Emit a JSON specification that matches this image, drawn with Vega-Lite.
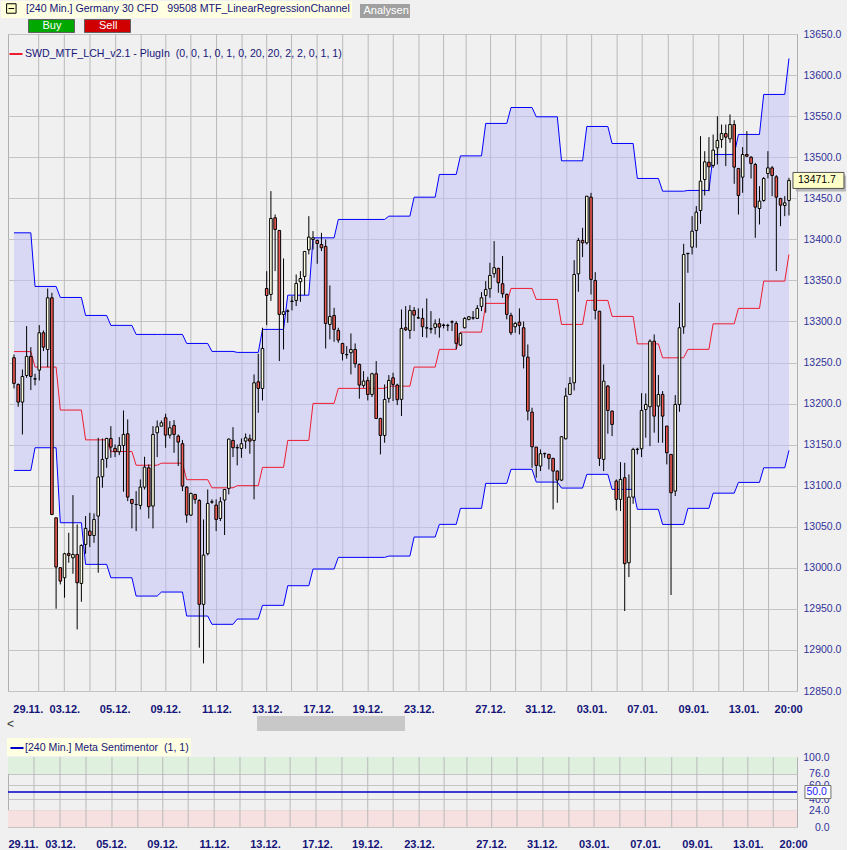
{
  "$schema": "https://vega.github.io/schema/vega-lite/v6.json",
  "background": "#f0f0f0",
  "padding": {"left": 0, "top": 0, "right": 0, "bottom": 0},
  "bounds": "flush",
  "spacing": 66,
  "config": {
    "view": {"stroke": "#b0b0b0", "fill": "#f0f0f0"},
    "font": "Liberation Sans",
    "axisY": {"grid": true, "gridColor": "#c4c4c4", "ticks": false, "domain": false, "labelFont": "Liberation Sans", "labelFontSize": 10.5, "labelColor": "#32329a"},
    "axisX": {"grid": false, "ticks": false, "domain": false, "labelFont": "Liberation Sans", "labelFontSize": 11, "labelFontWeight": "bold", "labelColor": "#141478", "labelFlush": false, "labelOverlap": false, "labelBound": false}
  },
  "resolve": {"scale": {"x": "independent", "y": "independent", "stroke": "independent", "fill": "independent"}, "legend": {"stroke": "independent", "fill": "independent"}},
  "datasets": {
    "grid": [{"t":5.86},{"t":11.95},{"t":18.05},{"t":24.14},{"t":30.2},{"t":36.05},{"t":42.0},{"t":48.1},{"t":54.15},{"t":60.0},{"t":65.9},{"t":71.97},{"t":78.05},{"t":84.1},{"t":90.05},{"t":96.15},{"t":102.0},{"t":107.35},{"t":113.15},{"t":119.1},{"t":125.15},{"t":131.25},{"t":137.15},{"t":143.2},{"t":149.15},{"t":155.35},{"t":161.25},{"t":167.35},{"t":173.2},{"t":179.15}],
    "channel": [
      {"t":0,"u":13407.9,"lo":13118.6,"m":13263.3},{"t":4,"u":13407.9,"lo":13118.6,"m":13263.3},
      {"t":5,"u":13342.6,"lo":13146.2,"m":13244.4},{"t":10,"u":13342.6,"lo":13146.2,"m":13244.4},
      {"t":11,"u":13329.2,"lo":13054.9,"m":13192.1},{"t":16,"u":13329.2,"lo":13054.9,"m":13192.1},
      {"t":17,"u":13307.3,"lo":13004.2,"m":13155.8},{"t":22,"u":13307.3,"lo":13004.2,"m":13155.8},
      {"t":23,"u":13295.2,"lo":12987.9,"m":13141.6},{"t":28,"u":13295.2,"lo":12987.9,"m":13141.6},
      {"t":29,"u":13284.2,"lo":12965.6,"m":13124.9},{"t":34,"u":13284.2,"lo":12965.6,"m":13124.9},
      {"t":35,"u":13284.2,"lo":12970.5,"m":13127.4},{"t":40,"u":13284.2,"lo":12970.5,"m":13127.4},
      {"t":41,"u":13273.2,"lo":12941.3,"m":13107.3},{"t":46,"u":13273.2,"lo":12941.3,"m":13107.3},
      {"t":47,"u":13263.5,"lo":12931.2,"m":13097.4},{"t":52,"u":13263.5,"lo":12931.2,"m":13097.4},
      {"t":53,"u":13262.3,"lo":12937.6,"m":13100.0},{"t":58,"u":13262.3,"lo":12937.6,"m":13100.0},
      {"t":59,"u":13290.3,"lo":12954.3,"m":13122.3},{"t":64,"u":13290.3,"lo":12954.3,"m":13122.3},
      {"t":65,"u":13332.0,"lo":12978.2,"m":13155.1},{"t":70,"u":13332.0,"lo":12978.2,"m":13155.1},
      {"t":71,"u":13401.8,"lo":12998.5,"m":13200.2},{"t":76,"u":13401.8,"lo":12998.5,"m":13200.2},
      {"t":77,"u":13424.2,"lo":13012.7,"m":13218.5},{"t":88,"u":13424.2,"lo":13012.7,"m":13218.5},
      {"t":89,"u":13428.2,"lo":13014.3,"m":13221.2},{"t":94,"u":13428.2,"lo":13014.3,"m":13221.2},
      {"t":95,"u":13451.3,"lo":13037.5,"m":13244.4},{"t":100,"u":13451.3,"lo":13037.5,"m":13244.4},
      {"t":101,"u":13479.0,"lo":13052.9,"m":13266.0},{"t":105,"u":13479.0,"lo":13052.9,"m":13266.0},
      {"t":106,"u":13501.6,"lo":13072.4,"m":13287.0},{"t":111,"u":13501.6,"lo":13072.4,"m":13287.0},
      {"t":112,"u":13541.1,"lo":13102.8,"m":13322.0},{"t":117,"u":13541.1,"lo":13102.8,"m":13322.0},
      {"t":118,"u":13560.5,"lo":13119.9,"m":13340.2},{"t":123,"u":13560.5,"lo":13119.9,"m":13340.2},
      {"t":124,"u":13549.2,"lo":13104.4,"m":13326.8},{"t":129,"u":13549.2,"lo":13104.4,"m":13326.8},
      {"t":130,"u":13495.6,"lo":13097.1,"m":13296.4},{"t":135,"u":13495.6,"lo":13097.1,"m":13296.4},
      {"t":136,"u":13537.4,"lo":13113.8,"m":13325.6},{"t":141,"u":13537.4,"lo":13113.8,"m":13325.6},
      {"t":142,"u":13516.7,"lo":13095.5,"m":13306.1},{"t":147,"u":13516.7,"lo":13095.5,"m":13306.1},
      {"t":148,"u":13474.1,"lo":13071.2,"m":13272.7},{"t":153,"u":13474.1,"lo":13071.2,"m":13272.7},
      {"t":154,"u":13458.6,"lo":13052.8,"m":13255.7},{"t":159,"u":13458.6,"lo":13052.8,"m":13255.7},
      {"t":160,"u":13459.5,"lo":13072.4,"m":13266.0},{"t":165,"u":13459.5,"lo":13072.4,"m":13266.0},
      {"t":166,"u":13503.3,"lo":13090.9,"m":13297.1},{"t":171,"u":13503.3,"lo":13090.9,"m":13297.1},
      {"t":172,"u":13527.7,"lo":13104.0,"m":13315.9},{"t":177,"u":13527.7,"lo":13104.0,"m":13315.9},
      {"t":178,"u":13576.4,"lo":13121.8,"m":13349.1},{"t":183,"u":13576.4,"lo":13121.8,"m":13349.1},
      {"t":184,"u":13620.2,"lo":13143.0,"m":13381.6}
    ],
    "candles": [
      {"t":0,"o":13255.8,"h":13259.8,"l":13218.4,"c":13224.5},
      {"t":1,"o":13223.3,"h":13224.5,"l":13196.1,"c":13201.8},
      {"t":2,"o":13201.8,"h":13241.5,"l":13162.4,"c":13233.0},
      {"t":3,"o":13234.2,"h":13294.3,"l":13231.4,"c":13257.4},
      {"t":4,"o":13257.4,"h":13268.7,"l":13216.4,"c":13233.0},
      {"t":5,"o":13230.2,"h":13236.3,"l":13222.1,"c":13229.8},
      {"t":6,"o":13240.7,"h":13295.5,"l":13228.1,"c":13286.2},
      {"t":7,"o":13286.2,"h":13289.0,"l":13263.9,"c":13268.7},
      {"t":8,"o":13265.9,"h":13340.1,"l":13244.4,"c":13328.8},
      {"t":9,"o":13328.8,"h":13334.9,"l":13064.2,"c":13065.0},
      {"t":10,"o":13060.9,"h":13060.9,"l":12950.2,"c":13000.9},
      {"t":11,"o":13000.1,"h":13000.9,"l":12979.8,"c":12983.8},
      {"t":12,"o":12987.9,"h":13018.3,"l":12963.6,"c":13017.1},
      {"t":13,"o":13017.5,"h":13042.7,"l":13006.2,"c":13015.1},
      {"t":14,"o":13012.2,"h":13088.5,"l":12992.8,"c":13016.3},
      {"t":15,"o":13016.3,"h":13052.8,"l":12925.0,"c":12981.8},
      {"t":16,"o":12981.0,"h":13028.5,"l":12958.7,"c":13027.3},
      {"t":17,"o":13028.5,"h":13063.0,"l":13017.1,"c":13048.0},
      {"t":18,"o":13044.7,"h":13067.0,"l":13025.2,"c":13039.4},
      {"t":19,"o":13039.4,"h":13066.2,"l":13030.5,"c":13058.9},
      {"t":20,"o":13063.0,"h":13158.3,"l":12994.0,"c":13110.5},
      {"t":21,"o":13110.9,"h":13157.5,"l":13097.5,"c":13132.0},
      {"t":22,"o":13133.2,"h":13158.3,"l":13121.8,"c":13157.5},
      {"t":23,"o":13157.5,"h":13172.5,"l":13134.0,"c":13147.0},
      {"t":24,"o":13145.4,"h":13150.2,"l":13134.8,"c":13141.3},
      {"t":25,"o":13141.3,"h":13159.2,"l":13137.2,"c":13149.0},
      {"t":26,"o":13149.0,"h":13191.6,"l":13092.6,"c":13162.4},
      {"t":27,"o":13163.2,"h":13180.7,"l":13081.2,"c":13086.1},
      {"t":28,"o":13083.3,"h":13083.3,"l":13048.0,"c":13078.4},
      {"t":29,"o":13077.2,"h":13093.4,"l":13044.7,"c":13077.0},
      {"t":30,"o":13076.0,"h":13107.6,"l":13071.1,"c":13098.3},
      {"t":31,"o":13098.3,"h":13135.2,"l":13095.4,"c":13122.6},
      {"t":32,"o":13121.8,"h":13125.9,"l":13060.1,"c":13074.4},
      {"t":33,"o":13075.2,"h":13172.5,"l":13048.0,"c":13162.4},
      {"t":34,"o":13164.4,"h":13179.4,"l":13134.8,"c":13171.7},
      {"t":35,"o":13172.5,"h":13179.4,"l":13172.5,"c":13176.6},
      {"t":36,"o":13182.7,"h":13187.6,"l":13146.2,"c":13161.6},
      {"t":37,"o":13161.6,"h":13178.6,"l":13157.5,"c":13170.5},
      {"t":38,"o":13173.4,"h":13179.9,"l":13140.1,"c":13162.4},
      {"t":39,"o":13160.4,"h":13162.4,"l":13123.9,"c":13153.1},
      {"t":40,"o":13151.1,"h":13155.5,"l":13093.4,"c":13099.5},
      {"t":41,"o":13098.3,"h":13099.5,"l":13054.9,"c":13064.2},
      {"t":42,"o":13064.2,"h":13091.4,"l":13063.0,"c":13090.6},
      {"t":43,"o":13089.3,"h":13090.1,"l":13078.0,"c":13083.3},
      {"t":44,"o":13082.1,"h":13083.3,"l":12902.7,"c":12955.5},
      {"t":45,"o":12955.5,"h":13058.9,"l":12883.6,"c":13015.5},
      {"t":46,"o":13017.1,"h":13095.4,"l":13015.1,"c":13078.4},
      {"t":47,"o":13080.4,"h":13083.3,"l":13078.0,"c":13080.0},
      {"t":48,"o":13076.4,"h":13083.3,"l":13044.7,"c":13058.9},
      {"t":49,"o":13060.1,"h":13086.1,"l":13056.9,"c":13080.4},
      {"t":50,"o":13082.5,"h":13095.4,"l":13039.9,"c":13095.4},
      {"t":51,"o":13096.7,"h":13157.5,"l":13089.4,"c":13156.7},
      {"t":52,"o":13155.1,"h":13171.3,"l":13134.8,"c":13146.2},
      {"t":53,"o":13146.4,"h":13150.2,"l":13124.7,"c":13146.0},
      {"t":54,"o":13145.4,"h":13157.5,"l":13134.0,"c":13151.1},
      {"t":55,"o":13154.3,"h":13163.6,"l":13145.0,"c":13158.3},
      {"t":56,"o":13157.1,"h":13162.4,"l":13138.9,"c":13154.3},
      {"t":57,"o":13155.1,"h":13235.5,"l":13083.3,"c":13225.3},
      {"t":58,"o":13226.5,"h":13260.6,"l":13188.8,"c":13218.4},
      {"t":59,"o":13218.4,"h":13292.3,"l":13203.8,"c":13267.1},
      {"t":60,"o":13340.1,"h":13361.2,"l":13295.5,"c":13331.6},
      {"t":61,"o":13332.9,"h":13458.7,"l":13325.0,"c":13425.4},
      {"t":62,"o":13426.2,"h":13430.2,"l":13361.3,"c":13412.0},
      {"t":63,"o":13410.8,"h":13410.8,"l":13251.7,"c":13308.5},
      {"t":64,"o":13308.5,"h":13376.7,"l":13265.9,"c":13311.8},
      {"t":65,"o":13312.8,"h":13314.6,"l":13298.4,"c":13312.4},
      {"t":66,"o":13324.7,"h":13330.8,"l":13313.4,"c":13324.3},
      {"t":67,"o":13325.6,"h":13357.2,"l":13318.7,"c":13346.3},
      {"t":68,"o":13348.3,"h":13361.3,"l":13323.9,"c":13352.3},
      {"t":69,"o":13354.8,"h":13385.6,"l":13332.1,"c":13385.2},
      {"t":70,"o":13387.2,"h":13428.2,"l":13381.6,"c":13402.7},
      {"t":71,"o":13399.8,"h":13410.0,"l":13387.6,"c":13401.8},
      {"t":72,"o":13398.6,"h":13399.8,"l":13370.2,"c":13394.9},
      {"t":73,"o":13393.7,"h":13407.9,"l":13385.6,"c":13389.7},
      {"t":74,"o":13391.3,"h":13399.8,"l":13267.1,"c":13297.6},
      {"t":75,"o":13296.3,"h":13343.8,"l":13278.1,"c":13306.1},
      {"t":76,"o":13307.3,"h":13316.6,"l":13275.2,"c":13290.3},
      {"t":77,"o":13289.0,"h":13292.3,"l":13274.0,"c":13277.3},
      {"t":78,"o":13273.2,"h":13274.0,"l":13252.5,"c":13261.0},
      {"t":79,"o":13259.8,"h":13270.0,"l":13254.6,"c":13259.4},
      {"t":80,"o":13261.9,"h":13285.4,"l":13235.5,"c":13265.9},
      {"t":81,"o":13265.9,"h":13273.2,"l":13243.6,"c":13248.5},
      {"t":82,"o":13247.7,"h":13248.5,"l":13205.9,"c":13222.5},
      {"t":83,"o":13222.1,"h":13239.5,"l":13219.2,"c":13227.4},
      {"t":84,"o":13228.2,"h":13232.6,"l":13203.8,"c":13211.1},
      {"t":85,"o":13211.1,"h":13237.5,"l":13207.9,"c":13236.3},
      {"t":86,"o":13236.3,"h":13251.7,"l":13181.5,"c":13181.9},
      {"t":87,"o":13181.9,"h":13182.7,"l":13138.1,"c":13161.2},
      {"t":88,"o":13161.2,"h":13223.3,"l":13152.3,"c":13205.0},
      {"t":89,"o":13206.3,"h":13234.7,"l":13201.0,"c":13228.2},
      {"t":90,"o":13231.4,"h":13237.5,"l":13203.0,"c":13223.3},
      {"t":91,"o":13222.5,"h":13224.2,"l":13198.2,"c":13204.7},
      {"t":92,"o":13205.1,"h":13314.6,"l":13184.8,"c":13291.5},
      {"t":93,"o":13292.3,"h":13318.7,"l":13288.3,"c":13289.9},
      {"t":94,"o":13289.1,"h":13319.9,"l":13278.9,"c":13313.4},
      {"t":95,"o":13313.4,"h":13317.5,"l":13288.3,"c":13307.7},
      {"t":96,"o":13304.5,"h":13315.9,"l":13303.7,"c":13304.1},
      {"t":97,"o":13303.7,"h":13315.9,"l":13281.0,"c":13293.5},
      {"t":98,"o":13292.3,"h":13328.0,"l":13280.2,"c":13291.9},
      {"t":99,"o":13291.1,"h":13312.6,"l":13285.4,"c":13290.7},
      {"t":100,"o":13292.7,"h":13302.5,"l":13284.2,"c":13297.2},
      {"t":101,"o":13297.2,"h":13303.7,"l":13280.2,"c":13293.1},
      {"t":102,"o":13295.6,"h":13297.2,"l":13291.5,"c":13295.2},
      {"t":103,"o":13295.2,"h":13297.2,"l":13288.3,"c":13294.8},
      {"t":104,"o":13299.6,"h":13301.3,"l":13288.3,"c":13299.2},
      {"t":105,"o":13297.6,"h":13300.4,"l":13266.0,"c":13273.3},
      {"t":106,"o":13271.2,"h":13286.2,"l":13270.0,"c":13285.4},
      {"t":107,"o":13292.3,"h":13305.3,"l":13291.5,"c":13303.7},
      {"t":108,"o":13302.5,"h":13306.5,"l":13301.3,"c":13305.7},
      {"t":109,"o":13304.5,"h":13312.6,"l":13302.1,"c":13304.1},
      {"t":110,"o":13303.7,"h":13319.9,"l":13302.9,"c":13315.9},
      {"t":111,"o":13318.3,"h":13335.7,"l":13312.6,"c":13328.8},
      {"t":112,"o":13331.7,"h":13349.1,"l":13310.6,"c":13339.0},
      {"t":113,"o":13339.8,"h":13371.5,"l":13328.8,"c":13356.0},
      {"t":114,"o":13358.1,"h":13397.8,"l":13353.2,"c":13365.4},
      {"t":115,"o":13364.6,"h":13365.4,"l":13334.9,"c":13347.1},
      {"t":116,"o":13345.9,"h":13379.6,"l":13328.8,"c":13333.7},
      {"t":117,"o":13332.9,"h":13334.1,"l":13302.5,"c":13308.6},
      {"t":118,"o":13307.3,"h":13310.6,"l":13283.4,"c":13286.2},
      {"t":119,"o":13293.5,"h":13299.6,"l":13286.2,"c":13297.6},
      {"t":120,"o":13299.2,"h":13315.9,"l":13284.2,"c":13295.2},
      {"t":121,"o":13292.3,"h":13300.0,"l":13242.8,"c":13257.8},
      {"t":122,"o":13256.6,"h":13272.0,"l":13179.5,"c":13190.8},
      {"t":123,"o":13189.6,"h":13194.9,"l":13121.8,"c":13147.4},
      {"t":124,"o":13147.0,"h":13147.0,"l":13109.7,"c":13124.7},
      {"t":125,"o":13123.9,"h":13144.2,"l":13117.8,"c":13138.9},
      {"t":126,"o":13139.3,"h":13140.1,"l":13134.0,"c":13138.9},
      {"t":127,"o":13138.1,"h":13138.9,"l":13119.8,"c":13133.2},
      {"t":128,"o":13133.2,"h":13134.0,"l":13071.1,"c":13117.8},
      {"t":129,"o":13117.8,"h":13118.6,"l":13079.2,"c":13106.8},
      {"t":130,"o":13106.8,"h":13160.4,"l":13105.6,"c":13159.6},
      {"t":131,"o":13157.1,"h":13219.2,"l":13156.3,"c":13209.1},
      {"t":132,"o":13211.1,"h":13232.2,"l":13210.3,"c":13224.5},
      {"t":133,"o":13225.3,"h":13374.6,"l":13216.0,"c":13357.2},
      {"t":134,"o":13358.0,"h":13401.8,"l":13336.1,"c":13398.6},
      {"t":135,"o":13398.6,"h":13414.0,"l":13378.3,"c":13395.7},
      {"t":136,"o":13395.7,"h":13452.5,"l":13393.7,"c":13452.5},
      {"t":137,"o":13451.3,"h":13456.6,"l":13332.8,"c":13351.1},
      {"t":138,"o":13349.9,"h":13360.0,"l":13302.4,"c":13313.4},
      {"t":139,"o":13312.5,"h":13312.5,"l":13123.9,"c":13133.2},
      {"t":140,"o":13132.0,"h":13247.6,"l":13117.8,"c":13227.3},
      {"t":141,"o":13221.3,"h":13222.5,"l":13163.2,"c":13191.6},
      {"t":142,"o":13190.8,"h":13191.6,"l":13160.4,"c":13174.6},
      {"t":143,"o":13105.6,"h":13107.6,"l":13069.9,"c":13083.3},
      {"t":144,"o":13083.3,"h":13128.7,"l":13069.1,"c":13107.6},
      {"t":145,"o":13109.7,"h":13127.9,"l":12947.4,"c":13005.0},
      {"t":146,"o":13006.2,"h":13113.7,"l":12988.7,"c":13086.1},
      {"t":147,"o":13086.1,"h":13146.2,"l":13078.0,"c":13144.2},
      {"t":148,"o":13144.4,"h":13146.2,"l":13138.1,"c":13144.0},
      {"t":149,"o":13145.0,"h":13212.7,"l":13134.8,"c":13191.6},
      {"t":150,"o":13192.8,"h":13212.3,"l":13158.4,"c":13198.9},
      {"t":151,"o":13196.1,"h":13278.1,"l":13148.2,"c":13276.0},
      {"t":152,"o":13276.0,"h":13284.2,"l":13164.5,"c":13184.7},
      {"t":153,"o":13196.9,"h":13234.7,"l":13152.3,"c":13211.1},
      {"t":154,"o":13211.1,"h":13215.2,"l":13152.3,"c":13184.7},
      {"t":155,"o":13172.6,"h":13172.6,"l":13125.9,"c":13140.1},
      {"t":156,"o":13138.1,"h":13138.1,"l":12966.9,"c":13091.4},
      {"t":157,"o":13093.4,"h":13210.3,"l":13087.4,"c":13198.9},
      {"t":158,"o":13198.9,"h":13322.7,"l":13190.0,"c":13292.3},
      {"t":159,"o":13293.5,"h":13394.5,"l":13285.0,"c":13381.5},
      {"t":160,"o":13382.9,"h":13383.6,"l":13359.2,"c":13382.5},
      {"t":161,"o":13390.5,"h":13428.2,"l":13381.5,"c":13409.9},
      {"t":162,"o":13410.8,"h":13440.4,"l":13389.7,"c":13433.1},
      {"t":163,"o":13435.1,"h":13525.6,"l":13418.9,"c":13470.8},
      {"t":164,"o":13472.8,"h":13507.3,"l":13453.4,"c":13494.3},
      {"t":165,"o":13493.9,"h":13524.4,"l":13458.6,"c":13488.3},
      {"t":166,"o":13489.9,"h":13527.6,"l":13487.0,"c":13508.6},
      {"t":167,"o":13511.4,"h":13549.9,"l":13491.1,"c":13520.3},
      {"t":168,"o":13521.5,"h":13539.8,"l":13511.4,"c":13528.8},
      {"t":169,"o":13528.8,"h":13539.8,"l":13489.1,"c":13524.4},
      {"t":170,"o":13522.3,"h":13552.0,"l":13517.5,"c":13539.8},
      {"t":171,"o":13539.8,"h":13545.0,"l":13467.6,"c":13487.9},
      {"t":172,"o":13486.2,"h":13487.0,"l":13430.2,"c":13453.4},
      {"t":173,"o":13475.7,"h":13512.2,"l":13456.6,"c":13503.3},
      {"t":174,"o":13503.3,"h":13531.7,"l":13500.0,"c":13501.2},
      {"t":175,"o":13500.0,"h":13501.2,"l":13474.1,"c":13492.3},
      {"t":176,"o":13491.1,"h":13493.1,"l":13401.8,"c":13439.2},
      {"t":177,"o":13437.5,"h":13464.7,"l":13418.1,"c":13446.5},
      {"t":178,"o":13447.3,"h":13475.7,"l":13445.7,"c":13474.1},
      {"t":179,"o":13480.1,"h":13507.3,"l":13474.1,"c":13487.0},
      {"t":180,"o":13487.0,"h":13489.1,"l":13452.6,"c":13477.7},
      {"t":181,"o":13476.1,"h":13478.1,"l":13361.3,"c":13451.3},
      {"t":182,"o":13449.7,"h":13450.5,"l":13416.0,"c":13441.6},
      {"t":183,"o":13441.2,"h":13452.6,"l":13428.2,"c":13444.4},
      {"t":184,"o":13447.3,"h":13474.9,"l":13429.0,"c":13471.7}
    ],
    "bands": [{"a":76,"b":100},{"a":0,"b":24}],
    "senti": [{"t":184,"v":50}]
  },
  "vconcat": [
    {
      "width": 789,
      "height": 657,
      "resolve": {"scale": {"fill": "independent"}, "legend": {"fill": "independent"}},
      "encoding": {
        "x": {"field": "t", "type": "quantitative", "scale": {"domain": [-0.234, 184.72], "nice": false, "zero": false},
          "axis": {"values": [3.28,11.95,23.9,35.9,48.05,60,72.2,83.9,96.1,113,124.9,137.1,149.1,161.3,173.2,183.8],
            "labelExpr": "['29.11.','03.12.','05.12.','09.12.','11.12.','13.12.','17.12.','19.12.','23.12.','27.12.','31.12.','03.01.','07.01.','09.01.','13.01.','20:00'][indexof([3.28,11.95,23.9,35.9,48.05,60,72.2,83.9,96.1,113,124.9,137.1,149.1,161.3,173.2,183.8], datum.value)]",
            "labelPadding": 12, "title": null}}
      },
      "layer": [
        {"data": {"name": "grid"}, "mark": {"type": "rule", "stroke": "#b9b9b9", "strokeWidth": 1},
          "encoding": {"fill": {"datum": "Sell", "type": "nominal", "scale": {"range": ["#d00000"]},
            "legend": {"orient": "none", "legendX": 92.5, "legendY": -15, "title": null, "symbolType": "M-3.54,-1H3.54V1H-3.54Z", "symbolSize": 169, "symbolStrokeWidth": 1, "symbolStrokeColor": "#606060", "padding": 0, "labelOffset": -15.5, "labelFont": "Liberation Sans", "labelFontSize": 11, "labelColor": "#ffffff", "labelLimit": 0}}}},
        {"data": {"name": "channel"}, "mark": {"type": "area", "fill": "#c0c0f8", "opacity": 0.5, "interpolate": "linear"},
          "encoding": {"y": {"field": "u", "type": "quantitative", "scale": {"domain": [12850, 13650], "nice": false, "zero": false},
            "axis": {"orient": "right", "values": [12850,12900,12950,13000,13050,13100,13150,13200,13250,13300,13350,13400,13450,13500,13550,13600,13650], "format": ".1f", "labelPadding": 6, "title": null}},
            "y2": {"field": "lo"}}},
        {"data": {"name": "channel"}, "mark": {"type": "line", "stroke": "#0000ff", "strokeWidth": 1},
          "encoding": {"y": {"field": "u", "type": "quantitative", "scale": {"domain": [12850, 13650], "nice": false, "zero": false},
            "axis": {"orient": "right", "values": [12850,12900,12950,13000,13050,13100,13150,13200,13250,13300,13350,13400,13450,13500,13550,13600,13650], "format": ".1f", "labelPadding": 6, "title": null}}}},
        {"data": {"name": "channel"}, "mark": {"type": "line", "stroke": "#0000ff", "strokeWidth": 1},
          "encoding": {"y": {"field": "lo", "type": "quantitative", "scale": {"domain": [12850, 13650], "nice": false, "zero": false},
            "axis": {"orient": "right", "values": [12850,12900,12950,13000,13050,13100,13150,13200,13250,13300,13350,13400,13450,13500,13550,13600,13650], "format": ".1f", "labelPadding": 6, "title": null}}}},
        {"data": {"name": "channel"}, "mark": {"type": "line", "strokeWidth": 1},
          "encoding": {"y": {"field": "m", "type": "quantitative", "scale": {"domain": [12850, 13650], "nice": false, "zero": false},
            "axis": {"orient": "right", "values": [12850,12900,12950,13000,13050,13100,13150,13200,13250,13300,13350,13400,13450,13500,13550,13600,13650], "format": ".1f", "labelPadding": 6, "title": null}},
            "stroke": {"datum": "SWD_MTF_LCH_v2.1 - PlugIn\u00a0\u00a0(0, 0, 1, 0, 1, 0, 20, 20, 2, 2, 0, 1, 1)", "type": "nominal", "scale": {"range": ["#ee1c30"]},
              "legend": {"orient": "none", "legendX": 0, "legendY": 12, "title": null, "symbolType": "stroke", "symbolStrokeWidth": 2, "symbolSize": 170, "labelFont": "Liberation Sans", "labelFontSize": 10.6, "labelColor": "#16167a", "labelLimit": 0, "padding": 0, "labelOffset": 1}}}},
        {"data": {"name": "candles"}, "mark": {"type": "rule", "stroke": "#000000", "strokeWidth": 1, "clip": true},
          "encoding": {"y": {"field": "l", "type": "quantitative", "scale": {"domain": [12850, 13650], "nice": false, "zero": false},
            "axis": {"orient": "right", "values": [12850,12900,12950,13000,13050,13100,13150,13200,13250,13300,13350,13400,13450,13500,13550,13600,13650], "format": ".1f", "labelPadding": 6, "title": null}}, "y2": {"field": "h"},
            "fill": {"datum": "Buy", "type": "nominal", "scale": {"range": ["#00a800"]},
              "legend": {"orient": "none", "legendX": 36.5, "legendY": -15, "title": null, "symbolType": "M-3.54,-1H3.54V1H-3.54Z", "symbolSize": 169, "symbolStrokeWidth": 1, "symbolStrokeColor": "#606060", "padding": 0, "labelOffset": -16, "labelFont": "Liberation Sans", "labelFontSize": 11, "labelColor": "#ffffff", "labelLimit": 0}}}},
        {"data": {"name": "candles"}, "mark": {"type": "bar", "width": 2.6, "stroke": "#000000", "strokeWidth": 1, "clip": true},
          "encoding": {"y": {"field": "o", "type": "quantitative", "scale": {"domain": [12850, 13650], "nice": false, "zero": false},
            "axis": {"orient": "right", "values": [12850,12900,12950,13000,13050,13100,13150,13200,13250,13300,13350,13400,13450,13500,13550,13600,13650], "format": ".1f", "labelPadding": 6, "title": null}}, "y2": {"field": "c"},
            "fill": {"condition": {"test": "datum.c >= datum.o", "value": "#ffffe4"}, "value": "#f05b52"}}},
        {"data": {"name": "candles"}, "transform": [{"filter": "datum.t == 184"}],
          "mark": {"type": "rect", "opacity": 0.7, "xOffset": 7, "x2Offset": 57, "yOffset": -5, "y2Offset": 11},
          "encoding": {"x2": {"field": "t"}, "y": {"field": "c", "type": "quantitative", "scale": {"domain": [12850, 13650], "nice": false, "zero": false},
            "axis": {"orient": "right", "values": [12850,12900,12950,13000,13050,13100,13150,13200,13250,13300,13350,13400,13450,13500,13550,13600,13650], "format": ".1f", "labelPadding": 6, "title": null}}, "y2": {"field": "c"},
            "fill": {"datum": "Analysen", "type": "nominal", "scale": {"range": ["#a0a0a0"]},
              "legend": {"orient": "none", "legendX": 369, "legendY": -31, "title": null, "symbolType": "M-3.57,-1H3.57V1H-3.57Z", "symbolSize": 196, "symbolOpacity": 1, "padding": 0, "labelOffset": -29.5, "labelFont": "Liberation Sans", "labelFontSize": 11, "labelColor": "#ffffff", "labelLimit": 0}}}},
        {"data": {"name": "candles"}, "transform": [{"filter": "datum.t == 184"}],
          "mark": {"type": "rect", "stroke": "#505050", "strokeWidth": 1, "xOffset": 4, "x2Offset": 55, "yOffset": -8, "y2Offset": 8},
          "encoding": {"x2": {"field": "t"}, "y": {"field": "c", "type": "quantitative", "scale": {"domain": [12850, 13650], "nice": false, "zero": false},
            "axis": {"orient": "right", "values": [12850,12900,12950,13000,13050,13100,13150,13200,13250,13300,13350,13400,13450,13500,13550,13600,13650], "format": ".1f", "labelPadding": 6, "title": null}}, "y2": {"field": "c"},
            "fill": {"datum": "[240 Min.] Germany 30 CFD\u00a0\u00a0\u00a099508 MTF_LinearRegressionChannel", "type": "nominal", "scale": {"range": ["#ffffc8"]},
              "legend": {"orient": "none", "legendX": -7, "legendY": -33, "title": null, "symbolType": "M-0.4,-1H1.6V1H-0.4Z M0,0H1.2", "symbolSize": 90, "symbolStrokeWidth": 1, "symbolStrokeColor": "#000000", "padding": 2, "fillColor": "#ffffe1", "labelFont": "Liberation Sans", "labelFontSize": 10.6, "labelColor": "#14147a", "labelLimit": 0, "labelOffset": 12}}}},
        {"data": {"name": "candles"}, "transform": [{"filter": "datum.t == 184"}],
          "mark": {"type": "text", "align": "left", "baseline": "middle", "dx": 9, "fontSize": 10.5, "font": "Liberation Sans", "color": "#000000"},
          "encoding": {"y": {"field": "c", "type": "quantitative", "scale": {"domain": [12850, 13650], "nice": false, "zero": false},
            "axis": {"orient": "right", "values": [12850,12900,12950,13000,13050,13100,13150,13200,13250,13300,13350,13400,13450,13500,13550,13600,13650], "format": ".1f", "labelPadding": 6, "title": null}}, "text": {"field": "c", "format": ".1f"}}}
      ]
    },
    {
      "width": 789,
      "height": 70,
      "layer": [
        {"data": {"name": "bands"}, "mark": {"type": "rect"},
          "encoding": {"y": {"field": "a", "type": "quantitative", "scale": {"domain": [0, 100], "nice": false, "zero": false},
            "axis": {"orient": "right", "values": [0, 24, 40, 60, 76, 100], "format": ".1f", "labelAlign": "right", "labelPadding": 32, "title": null}},
            "y2": {"field": "b"},
            "fill": {"condition": {"test": "datum.a > 50", "value": "#dff0df"}, "value": "#f7e0e0"}}},
        {"data": {"name": "grid"}, "mark": {"type": "rule", "stroke": "#b9b9b9", "strokeWidth": 1},
          "encoding": {"x": {"field": "t", "type": "quantitative", "scale": {"domain": [-0.234, 184.72], "nice": false, "zero": false},
            "axis": {"values": [3.28,11.95,23.9,35.9,48.05,60,72.2,83.9,96.1,113,124.9,137.1,149.1,161.3,173.2,183.8],
              "labelExpr": "['29.11.','03.12.','05.12.','09.12.','11.12.','13.12.','17.12.','19.12.','23.12.','27.12.','31.12.','03.01.','07.01.','09.01.','13.01.','20:00'][indexof([3.28,11.95,23.9,35.9,48.05,60,72.2,83.9,96.1,113,124.9,137.1,149.1,161.3,173.2,183.8], datum.value)]",
              "labelPadding": 11, "title": null}},
            "fill": {"datum": "<", "type": "nominal", "scale": {"range": ["#c8c8c8"]},
              "legend": {"orient": "none", "legendX": 315.5, "legendY": -41, "title": null, "symbolType": "M-9.87,-1H9.87V1H-9.87Z", "symbolSize": 225, "symbolStrokeWidth": 0, "symbolStrokeColor": "#c8c8c8", "padding": 0, "labelOffset": -331.5, "labelFont": "Liberation Sans", "labelFontSize": 12, "labelColor": "#303030", "labelLimit": 0}}}},
        {"data": {"name": "senti"}, "mark": {"type": "rule", "strokeWidth": 1.3},
          "encoding": {"y": {"field": "v", "type": "quantitative", "scale": {"domain": [0, 100], "nice": false, "zero": false},
            "axis": {"orient": "right", "values": [0, 24, 40, 60, 76, 100], "format": ".1f", "labelAlign": "right", "labelPadding": 32, "title": null}},
            "stroke": {"datum": "[240 Min.] Meta Sentimentor\u00a0\u00a0(1, 1)", "type": "nominal", "scale": {"range": ["#0000c8"]},
              "legend": {"orient": "none", "legendX": -1, "legendY": -19, "title": null, "symbolType": "stroke", "symbolStrokeWidth": 2, "symbolSize": 170, "labelFont": "Liberation Sans", "labelFontSize": 10.6, "labelColor": "#16167a", "labelLimit": 0, "padding": 2, "labelOffset": 0, "fillColor": "#ffffe1"}}}},
        {"data": {"name": "senti"}, "mark": {"type": "rect", "fill": "#ffffff", "stroke": "#707070", "strokeWidth": 1, "xOffset": 11, "x2Offset": 37, "yOffset": -6.5, "y2Offset": 6.5},
          "encoding": {"x": {"field": "t", "type": "quantitative", "scale": {"domain": [-0.234, 184.72], "nice": false, "zero": false},
            "axis": {"values": [3.28,11.95,23.9,35.9,48.05,60,72.2,83.9,96.1,113,124.9,137.1,149.1,161.3,173.2,183.8],
              "labelExpr": "['29.11.','03.12.','05.12.','09.12.','11.12.','13.12.','17.12.','19.12.','23.12.','27.12.','31.12.','03.01.','07.01.','09.01.','13.01.','20:00'][indexof([3.28,11.95,23.9,35.9,48.05,60,72.2,83.9,96.1,113,124.9,137.1,149.1,161.3,173.2,183.8], datum.value)]",
              "labelPadding": 11, "title": null}}, "x2": {"field": "t"},
            "y": {"field": "v", "type": "quantitative", "scale": {"domain": [0, 100], "nice": false, "zero": false},
              "axis": {"orient": "right", "values": [0, 24, 40, 60, 76, 100], "format": ".1f", "labelAlign": "right", "labelPadding": 32, "title": null}}, "y2": {"field": "v"}}},
        {"data": {"name": "senti"}, "mark": {"type": "text", "align": "right", "baseline": "middle", "dx": 33, "fontSize": 10.5, "font": "Liberation Sans", "color": "#1a1aff"},
          "encoding": {"x": {"field": "t", "type": "quantitative", "scale": {"domain": [-0.234, 184.72], "nice": false, "zero": false},
            "axis": {"values": [3.28,11.95,23.9,35.9,48.05,60,72.2,83.9,96.1,113,124.9,137.1,149.1,161.3,173.2,183.8],
              "labelExpr": "['29.11.','03.12.','05.12.','09.12.','11.12.','13.12.','17.12.','19.12.','23.12.','27.12.','31.12.','03.01.','07.01.','09.01.','13.01.','20:00'][indexof([3.28,11.95,23.9,35.9,48.05,60,72.2,83.9,96.1,113,124.9,137.1,149.1,161.3,173.2,183.8], datum.value)]",
              "labelPadding": 11, "title": null}},
            "y": {"field": "v", "type": "quantitative", "scale": {"domain": [0, 100], "nice": false, "zero": false},
              "axis": {"orient": "right", "values": [0, 24, 40, 60, 76, 100], "format": ".1f", "labelAlign": "right", "labelPadding": 32, "title": null}}, "text": {"field": "v", "format": ".1f"}}}
      ]
    }
  ]
}
